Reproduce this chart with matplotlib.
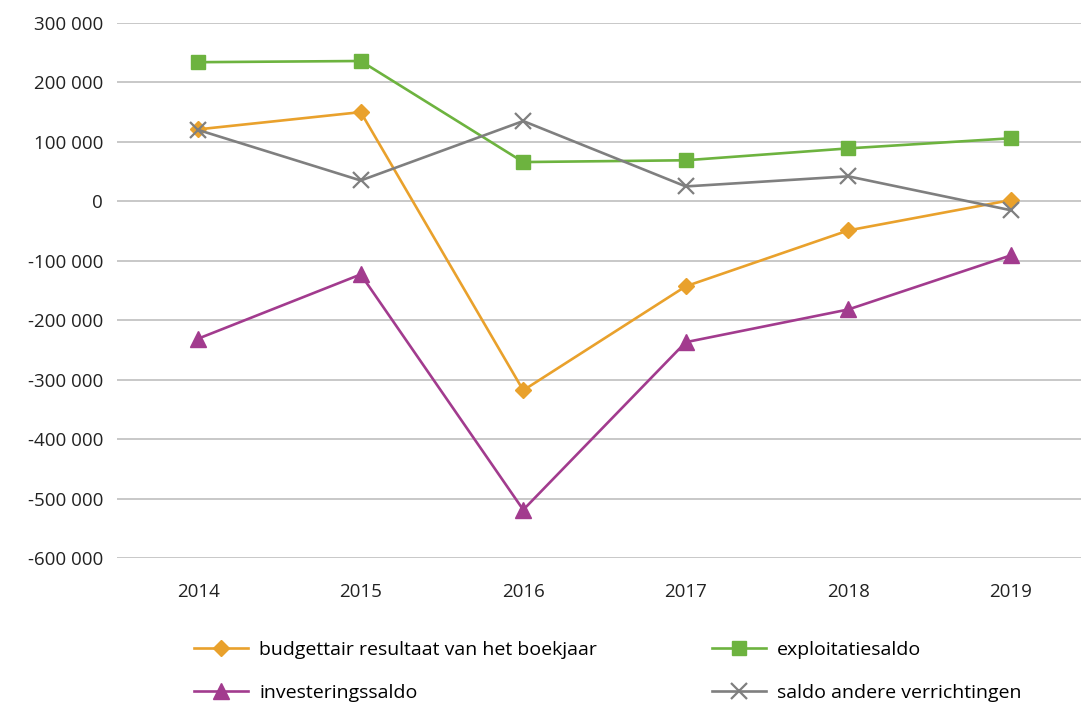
import matplotlib.pyplot as plt
from matplotlib.ticker import FuncFormatter

plt.rcParams['font.family'] = ['Open Sans', 'DejaVu Sans']

years = [2014, 2015, 2016, 2017, 2018, 2019]
budgettair = [121000, 150000, -318000, -143000, -49000, 2000]
exploitatie = [234000, 236000, 66000, 69000, 89000, 106000]
investering = [-231000, -123000, -519000, -237000, -182000, -91000]
saldo_andere = [120000, 35000, 135000, 25000, 42000, -15000]

labels = ["budgettair resultaat van het boekjaar", "exploitatiesaldo",
          "investeringssaldo", "saldo andere verrichtingen"]

fig = plt.figure(figsize=(10.81, 7.04), dpi=100)
ax = fig.add_axes([0.1082, 0.2074, 0.902, 0.760])

x = list(range(len(years)))
h1, = ax.plot(x, budgettair, color="#E9A12C", lw=1.9, marker="D", ms=8, zorder=3)
h2, = ax.plot(x, exploitatie, color="#6DB33F", lw=1.9, marker="s", ms=10, zorder=3)
h3, = ax.plot(x, investering, color="#A23B8E", lw=1.9, marker="^", ms=11, zorder=3)
h4, = ax.plot(x, saldo_andere, color="#7F7F7F", lw=1.9, marker="x", ms=11, mew=1.6, zorder=4)

ax.set_xlim(-0.5, len(years) - 0.5)
ax.set_ylim(-600000, 300000)
ax.set_yticks(range(-600000, 300001, 100000))
ax.yaxis.set_major_formatter(FuncFormatter(lambda v, p: f"{v:,.0f}".replace(",", " ")))
ax.set_xticks(x)
ax.set_xticklabels([str(y) for y in years])
ax.tick_params(length=0, labelsize=13.5, colors="#222222", pad=10)
ax.tick_params(axis="x", pad=18)
ax.grid(axis="y", color="#BFBFBF", lw=1.2)
ax.set_axisbelow(True)
for s in ax.spines.values():
    s.set_visible(False)

fig.legend([h1, h3, h2, h4], [labels[0], labels[2], labels[1], labels[3]],
           ncol=2, loc="upper left", bbox_to_anchor=(0.1705, 0.104),
           frameon=False, fontsize=14, handlelength=2.8, handletextpad=0.55,
           columnspacing=5.9, labelspacing=1.32, borderpad=0)

fig.savefig("out.png", dpi=100)
